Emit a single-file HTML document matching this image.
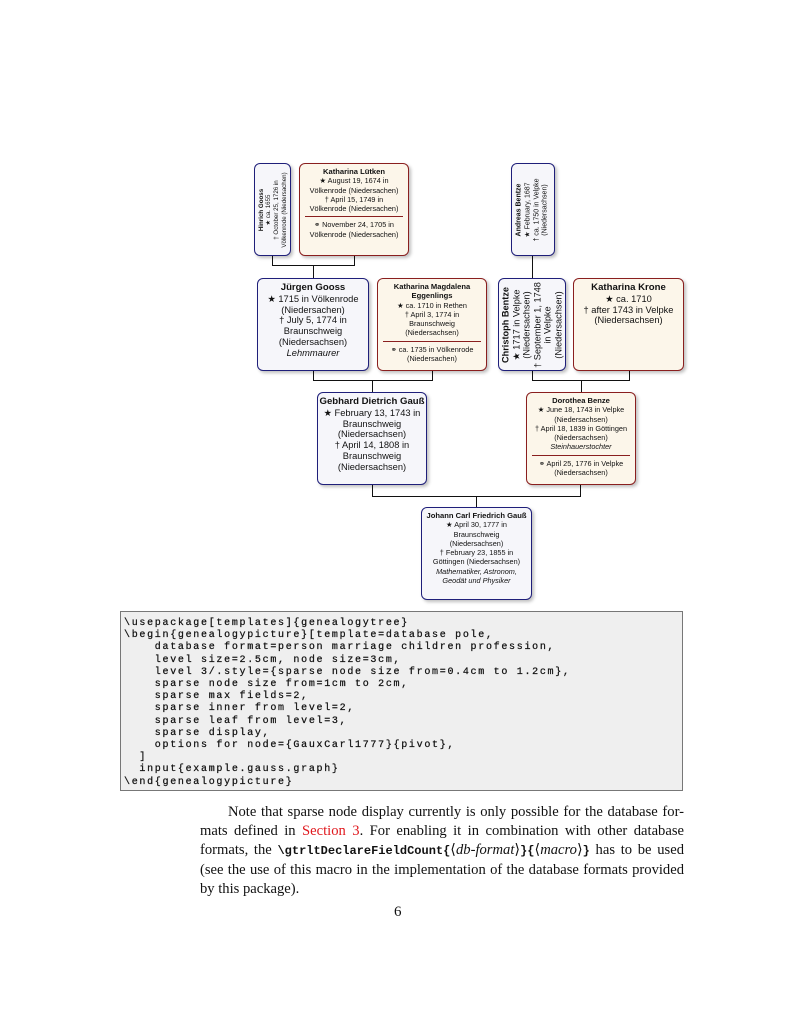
<!DOCTYPE html>
<html><head><meta charset="utf-8"><style>
html,body{margin:0;padding:0;background:#fff;width:800px;height:1035px;overflow:hidden}
body{position:relative;font-family:"Liberation Sans","DejaVu Sans",sans-serif;color:#111}
.n{position:absolute;box-sizing:border-box;border-radius:6px;border:1.4px solid;box-shadow:2px 2px 3px rgba(0,0,0,0.25);text-align:center;overflow:hidden}
.m{border-color:#1f1f7a;background:#f6f6fa}
.f{border-color:#8a1f1f;background:#fcf6ea}
.s{font-size:7.3px;line-height:9.3px;padding-top:3px}
.b{font-size:9.3px;line-height:10.8px;padding-top:3px}
.s b{font-size:7.6px}
.b b{font-size:9.6px}
hr{border:0;border-top:0.8px solid #8a1f1f;margin:3px 5px 3px}
.r{position:absolute;left:50%;top:50%;transform:translate(-50%,-50%) rotate(-90deg);display:flex;flex-direction:column;justify-content:center;align-items:center;text-align:center;white-space:nowrap}
.l{position:absolute;background:#111}
pre{position:absolute;left:120px;top:611px;width:563px;height:180px;box-sizing:border-box;margin:0;background:#efefef;border:1.2px solid #777;padding:6px 3px;font-family:"Liberation Mono",monospace;font-size:10px;letter-spacing:1.7px;line-height:12.2px;color:#111;overflow:hidden;-webkit-text-stroke:0.25px #111}
.p{position:absolute;left:200px;top:803px;width:484px;font-family:"Liberation Serif",serif;font-size:14.6px;line-height:19px}
.p div{text-align:justify;text-align-last:justify;white-space:nowrap}
.p div.last{text-align-last:left}
.tt{font-family:'Liberation Mono',monospace;font-weight:bold;font-size:12px}
</style></head><body>

<div class="l" style="left:272px;top:255px;width:1.3px;height:11px"></div>
<div class="l" style="left:354px;top:255px;width:1.3px;height:11px"></div>
<div class="l" style="left:272px;top:265px;width:83px;height:1.3px"></div>
<div class="l" style="left:313px;top:265px;width:1.3px;height:14px"></div>
<div class="l" style="left:532px;top:255px;width:1.3px;height:24px"></div>

<div class="l" style="left:313px;top:370px;width:1.3px;height:11px"></div>
<div class="l" style="left:432px;top:370px;width:1.3px;height:11px"></div>
<div class="l" style="left:313px;top:380px;width:120px;height:1.3px"></div>
<div class="l" style="left:372px;top:380px;width:1.3px;height:13px"></div>
<div class="l" style="left:532px;top:370px;width:1.3px;height:11px"></div>
<div class="l" style="left:629px;top:370px;width:1.3px;height:11px"></div>
<div class="l" style="left:532px;top:380px;width:98px;height:1.3px"></div>
<div class="l" style="left:581px;top:380px;width:1.3px;height:13px"></div>

<div class="l" style="left:372px;top:484px;width:1.3px;height:13px"></div>
<div class="l" style="left:580px;top:484px;width:1.3px;height:13px"></div>
<div class="l" style="left:372px;top:496px;width:209px;height:1.3px"></div>
<div class="l" style="left:476px;top:496px;width:1.3px;height:12px"></div>

<div class="n m" style="left:254px;top:163px;width:37px;height:93px;font-size:6.2px;line-height:7.6px"><div class="r" style="width:90px;height:34px"><b>Hinrich Gooss</b><div>★ ca. 1655</div><div>† October 25, 1726 in</div><div>Völkenrode (Niedersachen)</div></div></div>
<div class="n f s" style="left:299px;top:163px;width:110px;height:93px"><b>Katharina Lütken</b><br>★ August 19, 1674 in<br>Völkenrode (Niedersachen)<br>† April 15, 1749 in<br>Völkenrode (Niedersachen)<hr>⚭ November 24, 1705 in<br>Völkenrode (Niedersachen)</div>
<div class="n m" style="left:511px;top:163px;width:44px;height:93px;font-size:7px;line-height:8.6px"><div class="r" style="width:90px;height:41px"><b>Andreas Bentze</b><div>★ February, 1687</div><div>† ca. 1750 in Velpke</div><div>(Niedersachsen)</div></div></div>

<div class="n m b" style="left:257px;top:278px;width:112px;height:93px"><b>Jürgen Gooss</b><br>★ 1715 in Völkenrode<br>(Niedersachen)<br>† July 5, 1774 in<br>Braunschweig<br>(Niedersachsen)<br><i>Lehmmaurer</i></div>
<div class="n f s" style="left:377px;top:278px;width:110px;height:93px"><b>Katharina Magdalena<br>Eggenlings</b><br>★ ca. 1710 in Rethen<br>† April 3, 1774 in<br>Braunschweig<br>(Niedersachsen)<hr>⚭ ca. 1735 in Völkenrode<br>(Niedersachen)</div>
<div class="n m" style="left:498px;top:278px;width:68px;height:93px;font-size:9.2px;line-height:10.5px"><div class="r" style="width:90px;height:65px"><b>Christoph Bentze</b><div>★ 1717 in Velpke</div><div>(Niedersachsen)</div><div>† September 1, 1748</div><div>in Velpke</div><div>(Niedersachsen)</div></div></div>
<div class="n f b" style="left:573px;top:278px;width:111px;height:93px"><b>Katharina Krone</b><br>★ ca. 1710<br>† after 1743 in Velpke<br>(Niedersachsen)</div>

<div class="n m b" style="left:317px;top:392px;width:110px;height:93px"><b>Gebhard Dietrich Gauß</b><br>★ February 13, 1743 in<br>Braunschweig<br>(Niedersachsen)<br>† April 14, 1808 in<br>Braunschweig<br>(Niedersachsen)</div>
<div class="n f s" style="left:526px;top:392px;width:110px;height:93px"><b>Dorothea Benze</b><br>★ June 18, 1743 in Velpke<br>(Niedersachsen)<br>† April 18, 1839 in Göttingen<br>(Niedersachsen)<br><i>Steinhauerstochter</i><hr>⚭ April 25, 1776 in Velpke<br>(Niedersachsen)</div>

<div class="n m s" style="left:421px;top:507px;width:111px;height:93px"><b>Johann Carl Friedrich Gauß</b><br>★ April 30, 1777 in<br>Braunschweig<br>(Niedersachsen)<br>† February 23, 1855 in<br>Göttingen (Niedersachsen)<br><i>Mathematiker, Astronom,<br>Geodät und Physiker</i></div>

<pre>\usepackage[templates]{genealogytree}
\begin{genealogypicture}[template=database pole,
    database format=person marriage children profession,
    level size=2.5cm, node size=3cm,
    level 3/.style={sparse node size from=0.4cm to 1.2cm},
    sparse node size from=1cm to 2cm,
    sparse max fields=2,
    sparse inner from level=2,
    sparse leaf from level=3,
    sparse display,
    options for node={GauxCarl1777}{pivot},
  ]
  input{example.gauss.graph}
\end{genealogypicture}</pre>

<div class="p">
<div>&nbsp;&nbsp;&nbsp;&nbsp;&nbsp;&nbsp;Note that sparse node display currently is only possible for the database for-</div>
<div>mats defined in <span style="color:#e0191e">Section 3</span>. For enabling it in combination with other database</div>
<div>formats, the <span class="tt">\gtrltDeclareFieldCount{</span>⟨<i>db-format</i>⟩<span class="tt">}{</span>⟨<i>macro</i>⟩<span class="tt">}</span> has to be used</div>
<div>(see the use of this macro in the implementation of the database formats provided</div>
<div class="last">by this package).</div>
</div>

<div style="position:absolute;left:394px;top:904px;font-family:'Liberation Serif',serif;font-size:15px">6</div>
</body></html>
